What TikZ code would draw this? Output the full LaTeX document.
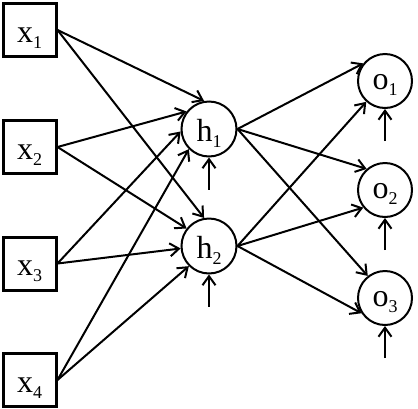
\documentclass[tikz,border=0pt]{standalone}
\usepackage{fontspec}
\setmainfont{Liberation Serif}
\usetikzlibrary{arrows.meta}
\newcommand\mysub[1]{\raisebox{-6pt}{\fontsize{18}{18}\selectfont #1}}
\begin{document}
\begin{tikzpicture}[x=1pt,y=-1pt,
  inbox/.style={draw, line width=3pt, minimum width=53pt, minimum height=53pt, inner sep=0pt,
    text height=24pt, text depth=0pt, font=\fontsize{32}{32}\selectfont},
  neuron/.style={draw, circle, line width=2pt, minimum size=55pt, inner sep=0pt,
    text height=24pt, text depth=0pt, font=\fontsize{32}{32}\selectfont},
  outn/.style={neuron, minimum size=54pt, text height=16pt},
  conn/.style={line width=2pt, -{Straight Barb[length=9pt,width=13pt,line width=2pt]}},
]
\useasboundingbox (0,0) rectangle (418,408);
\node[inbox] (x1) at (29.5,30) {x\mysub{1}};
\node[inbox] (x2) at (29.5,147) {x\mysub{2}};
\node[inbox] (x3) at (29.5,263.5) {x\mysub{3}};
\node[inbox] (x4) at (29.5,380) {x\mysub{4}};
\node[neuron] (h1) at (209,129) {h\mysub{1}};
\node[neuron] (h2) at (209,246) {h\mysub{2}};
\node[outn] (o1) at (385,81) {o\mysub{1}};
\node[outn] (o2) at (385,190) {o\mysub{2}};
\node[outn] (o3) at (385,298) {o\mysub{3}};
\foreach \h in {h1,h2}{
  \draw[conn] (x1.east) -- (\h.100);
  \draw[conn] (x2.east) -- (\h.142);
  \draw[conn] (x3.east) -- (\h.185);
  \draw[conn] (x4.east) -- (\h.225);
}
\draw[conn] (h1.east) -- (o1.141);
\draw[conn] (h2.east) -- (o1.228);
\draw[conn] (h1.east) -- (o2.131);
\draw[conn] (h2.east) -- (o2.219);
\draw[conn] (h1.east) -- (o3.128);
\draw[conn] (h2.east) -- (o3.213);
\foreach \n in {h1,h2,o1,o2,o3}{
  \coordinate (b\n) at ([yshift=-32pt]\n.south);
  \draw[conn] (b\n) -- (\n.south);
}
\end{tikzpicture}
\end{document}
